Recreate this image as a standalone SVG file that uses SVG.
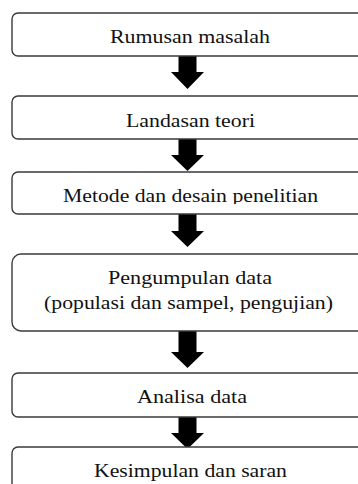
<svg xmlns="http://www.w3.org/2000/svg" width="358" height="484" viewBox="0 0 358 484">
<style>
.box{fill:#fff;stroke:#3a3a3a;stroke-width:1.4}
.t{font-family:"Liberation Serif","Times New Roman",serif;font-size:19.5px;fill:#111}
.arr{fill:#000}
</style>
<defs>
<clipPath id="c3"><rect x="0" y="172" width="358" height="32"/></clipPath>
</defs>
<rect width="358" height="484" fill="#fff"/>
<g id="connectors">
<polygon class="arr" points="178.5,56 196.5,56 196.5,72 204,72 187.5,89 171,72 178.5,72"/>
<polygon class="arr" points="178.5,139 196.5,139 196.5,155 204,155 187.5,171 171,155 178.5,155"/>
<polygon class="arr" points="178.5,214 196.5,214 196.5,231 204,231 187.5,247 171,231 178.5,231"/>
<polygon class="arr" points="178.5,331 196.5,331 196.5,352 204,352 187.5,368 171,352 178.5,352"/>
<polygon class="arr" points="178.5,417 196.5,417 196.5,433 204,433 187.5,449 171,433 178.5,433"/>
</g>
<g id="n1"><rect class="box" x="12" y="13" width="356" height="43" rx="6"/><text class="t" x="110" y="43" textLength="160" lengthAdjust="spacingAndGlyphs">Rumusan masalah</text></g>
<g id="n2"><rect class="box" x="12" y="96" width="356" height="43" rx="6"/><text class="t" x="126" y="127" textLength="129" lengthAdjust="spacingAndGlyphs">Landasan teori</text></g>
<g id="n3"><rect class="box" x="12" y="172" width="356" height="42" rx="6"/><text class="t" x="63" y="202" textLength="255" lengthAdjust="spacingAndGlyphs" clip-path="url(#c3)">Metode dan desain penelitian</text></g>
<g id="n4"><rect class="box" x="12" y="254" width="356" height="77" rx="9"/><text class="t" x="108" y="284" textLength="164" lengthAdjust="spacingAndGlyphs">Pengumpulan data</text><text class="t" x="44" y="309" textLength="289" lengthAdjust="spacingAndGlyphs">(populasi dan sampel, pengujian)</text></g>
<g id="n5"><rect class="box" x="12" y="373" width="356" height="44" rx="6"/><text class="t" x="137" y="403" textLength="110" lengthAdjust="spacingAndGlyphs">Analisa data</text></g>
<g id="n6"><rect class="box" x="12" y="447" width="356" height="60" rx="6"/><text class="t" x="94" y="477" textLength="193" lengthAdjust="spacingAndGlyphs">Kesimpulan dan saran</text></g>
</svg>
